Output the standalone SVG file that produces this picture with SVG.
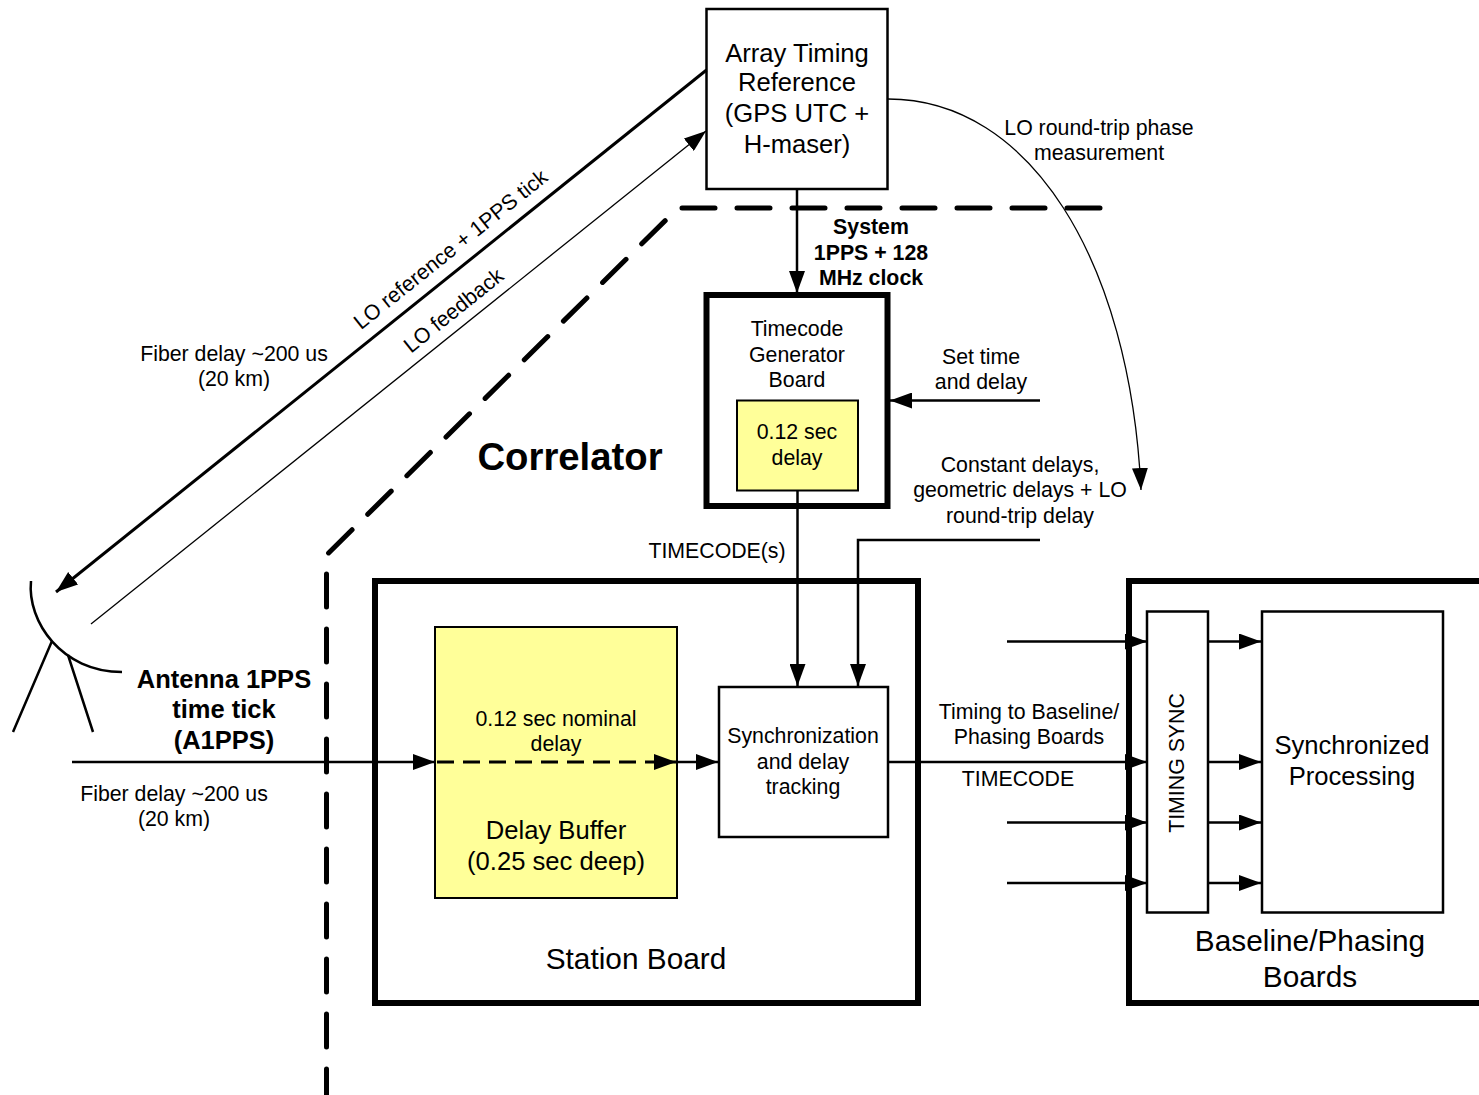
<svg xmlns="http://www.w3.org/2000/svg" width="1479" height="1095" viewBox="0 0 1479 1095">
<style>
text{font-family:"Liberation Sans",Arial,sans-serif;fill:#000;text-anchor:middle}
.s16{font-size:21.300px}.s18{font-size:25.600px}.s22{font-size:29.800px}.b{font-weight:bold}
.box{fill:#fff;stroke:#000;stroke-width:2.5}
.y{fill:#ffff99;stroke:#000;stroke-width:2}
.thick{fill:none;stroke:#000;stroke-width:6}
.l{fill:none;stroke:#000;stroke-width:2.5}
.thin{fill:none;stroke:#000;stroke-width:1.3}
</style>
<defs>
<marker id="a" markerUnits="userSpaceOnUse" markerWidth="24" markerHeight="16" refX="22" refY="8" orient="auto"><path d="M0 0L22 8L0 16Z" fill="#000"/></marker>
</defs>
<g id="boundary"><path d="M1100 208H678L326.500 555V1095" fill="none" stroke="#000" stroke-width="5" stroke-linecap="round" stroke-dasharray="33 22"/></g>
<g id="array-timing"><rect class="box" x="706.500" y="9" width="181" height="180"/>
<text class="s18" x="797" y="61.500">Array Timing</text><text class="s18" x="797" y="91">Reference</text><text class="s18" x="797" y="122">(GPS UTC +</text><text class="s18" x="797" y="153">H-maser)</text></g>
<g id="timecode-generator"><rect class="box" style="stroke-width:6" x="706.500" y="295" width="181" height="211"/>
<text class="s16" x="797" y="336">Timecode</text><text class="s16" x="797" y="362">Generator</text><text class="s16" x="797" y="387">Board</text>
<rect class="y" x="737" y="400.500" width="121" height="90"/><text class="s16" x="797" y="439">0.12 sec</text><text class="s16" x="797" y="465">delay</text></g>
<g id="station-board"><rect class="thick" x="375" y="581" width="543" height="422"/>
<rect class="y" x="435" y="627" width="242" height="271"/>
<text class="s16" x="556" y="726">0.12 sec nominal</text><text class="s16" x="556" y="751">delay</text>
<text class="s18" x="556" y="839">Delay Buffer</text><text class="s18" x="556" y="870">(0.25 sec deep)</text>
<text class="s22" x="636" y="969">Station Board</text></g>
<g id="sync-tracking"><rect class="box" x="719" y="687" width="169" height="150"/>
<text class="s16" x="803" y="743">Synchronization</text><text class="s16" x="803" y="769">and delay</text><text class="s16" x="803" y="794">tracking</text></g>
<g id="baseline-boards"><path class="thick" d="M1479 581H1129V1003H1479"/>
<rect class="box" x="1147" y="611.500" width="61" height="301"/>
<text class="s16" transform="translate(1184 763) rotate(-90)" x="0" y="0">TIMING SYNC</text>
<rect class="box" x="1262" y="611.500" width="181" height="301"/>
<text class="s18" x="1352" y="754">Synchronized</text><text class="s18" x="1352" y="785">Processing</text>
<text class="s22" x="1310" y="951">Baseline/Phasing</text><text class="s22" x="1310" y="987">Boards</text></g>
<g id="antenna"><path d="M31 581C27 622 62 672 122 672" fill="none" stroke="#000" stroke-width="2.500"/><path class="l" d="M52 641L13 732M68 655L93 732"/></g>
<g id="connectors">
<path d="M706.500 70L56 592" fill="none" stroke="#000" stroke-width="3" marker-end="url(#a)"/>
<path d="M91 624L706 131" class="thin" marker-end="url(#a)"/>
<path class="l" d="M797 189V293" marker-end="url(#a)"/>
<path class="thin" d="M888 99C1030 99 1130 260 1141 490" marker-end="url(#a)"/>
<path class="l" d="M1040 400.500H890" marker-end="url(#a)"/>
<path class="l" d="M797.500 490V686" marker-end="url(#a)"/>
<path class="l" d="M1040 540H858V686" marker-end="url(#a)"/>
<path class="l" d="M72 762H435" marker-end="url(#a)"/>
<path d="M437 762H676" fill="none" stroke="#000" stroke-width="3" stroke-dasharray="17 9" marker-end="url(#a)"/>
<path class="l" d="M677 762H718" marker-end="url(#a)"/>
<path class="l" d="M888 762H1147" marker-end="url(#a)"/>
<path class="l" d="M1007 641.500H1147" marker-end="url(#a)"/><path class="l" d="M1007 822.500H1147" marker-end="url(#a)"/><path class="l" d="M1007 883H1147" marker-end="url(#a)"/>
<path class="l" d="M1208 641.500H1261" marker-end="url(#a)"/><path class="l" d="M1208 762H1261" marker-end="url(#a)"/><path class="l" d="M1208 822.500H1261" marker-end="url(#a)"/><path class="l" d="M1208 883H1261" marker-end="url(#a)"/>
</g>
<g id="labels">
<text class="s16" transform="translate(455 255) rotate(-38.700)">LO reference + 1PPS tick</text>
<text class="s16" transform="translate(458 316) rotate(-38.700)">LO feedback</text>
<text class="s16" x="234" y="360.500">Fiber delay ~200 us</text><text class="s16" x="234" y="386">(20 km)</text>
<text class="b" style="font-size:38.300px" x="570" y="470">Correlator</text>
<text class="s16 b" x="871" y="234">System</text><text class="s16 b" x="871" y="260">1PPS + 128</text><text class="s16 b" x="871" y="285">MHz clock</text>
<text class="s16" x="1099" y="135">LO round-trip phase</text><text class="s16" x="1099" y="160">measurement</text>
<text class="s16" x="981" y="364">Set time</text><text class="s16" x="981" y="389">and delay</text>
<text class="s16" x="1020" y="472">Constant delays,</text><text class="s16" x="1020" y="497">geometric delays + LO</text><text class="s16" x="1020" y="523">round-trip delay</text>
<text class="s16" x="717" y="558">TIMECODE(s)</text>
<text class="b" style="font-size:25.500px" x="224" y="688">Antenna 1PPS</text><text class="b" style="font-size:25.500px" x="224" y="718">time tick</text><text class="b" style="font-size:25.500px" x="224" y="749">(A1PPS)</text>
<text class="s16" x="174" y="800.500">Fiber delay ~200 us</text><text class="s16" x="174" y="826">(20 km)</text>
<text class="s16" x="1029" y="718.500">Timing to Baseline/</text><text class="s16" x="1029" y="744">Phasing Boards</text>
<text class="s16" x="1018" y="786">TIMECODE</text>
</g>
</svg>
